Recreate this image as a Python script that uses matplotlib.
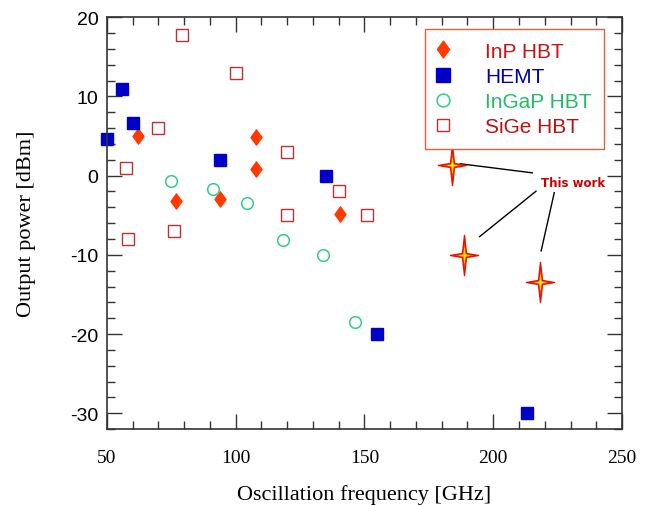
import numpy as np
import matplotlib
matplotlib.use("Agg")
import matplotlib.pyplot as plt
from matplotlib.path import Path
from matplotlib.ticker import MultipleLocator

plt.rcParams["axes.unicode_minus"] = False

# data (GHz, dBm)
inp_freq = [62, 77, 94, 108, 108, 140.5]
inp_pow = [5.0, -3.2, -3.0, 4.9, 0.9, -4.8]

hemt_freq = [50, 56, 60, 94, 135, 155, 213]
hemt_pow = [4.6, 11.0, 6.6, 2.0, 0.0, -20.0, -30.0]

ingap_freq = [75, 91, 104.5, 118.5, 134, 146.5]
ingap_pow = [-0.7, -1.7, -3.4, -8.1, -10.0, -18.5]

sige_freq = [79, 100, 70, 57.5, 120, 120, 76, 58, 140, 151]
sige_pow = [17.8, 13.0, 6.0, 1.0, 3.0, -5.0, -7.0, -8.0, -2.0, -5.0]

work_freq = [184, 188.5, 218]
work_pow = [1.4, -10.0, -13.4]

# custom markers
diamond = Path([(0, 1), (0.72, 0), (0, -1), (-0.72, 0), (0, 1)],
               [Path.MOVETO, Path.LINETO, Path.LINETO, Path.LINETO, Path.CLOSEPOLY])
s = 0.1
star = Path([(0, 1), (s, s), (0.7, 0), (s, -s), (0, -1), (-s, -s), (-0.7, 0), (-s, s), (0, 1)],
            [Path.MOVETO] + [Path.LINETO] * 7 + [Path.CLOSEPOLY])

fig = plt.figure(figsize=(6.52, 5.06), dpi=100)
ax = fig.add_axes([0.164, 0.150, 0.790, 0.814])

ax.plot(inp_freq, inp_pow, ls="none", marker=diamond, ms=11, color="#ff3a00",
        mec="#ff3a00", label="InP HBT", clip_on=False)
ax.plot(hemt_freq, hemt_pow, ls="none", marker="s", ms=8.8, color="#0000c8",
        mec="#0000c8", label="HEMT", clip_on=False)
ax.plot(ingap_freq, ingap_pow, ls="none", marker="o", ms=8.4, mfc="none",
        mec="#33cc88", mew=1.1, label="InGaP HBT", clip_on=False)
ax.plot(sige_freq, sige_pow, ls="none", marker="s", ms=8.4, mfc="none",
        mec="#c03030", mew=1.0, label="SiGe HBT", clip_on=False)

# this work: stars + callout lines
ax.plot(work_freq, work_pow, ls="none", marker=star, ms=29, mfc="#ff4a00",
        mec="#e81000", mew=1.0, zorder=5)
ax.plot(work_freq, work_pow, ls="none", marker=star, ms=11, mfc="#ffff30",
        mec="#ffd000", mew=0.5, zorder=6)

txt_x, txt_y = 231, -0.9
ax.text(txt_x, txt_y, "This work", color="#cc0000", fontsize=8.5, fontweight="bold",
        family="DejaVu Sans", ha="center", va="center")
ax.plot([187.2, 215.2], [1.5, 0.35], color="black", lw=1.0)
ax.plot([194.7, 216.6], [-7.7, -1.97], color="black", lw=1.0)
ax.plot([218.6, 223.7], [-9.5, -2.15], color="black", lw=1.0)

ax.set_xlim(50, 250)
ax.set_ylim(-32, 20)
ax.xaxis.set_major_locator(MultipleLocator(50))
ax.xaxis.set_minor_locator(MultipleLocator(10))
ax.yaxis.set_major_locator(MultipleLocator(10))
ax.yaxis.set_minor_locator(MultipleLocator(2))

ax.tick_params(which="both", direction="in", top=True, right=True, color="#333333")
ax.tick_params(which="major", length=11, width=1.0)
ax.tick_params(which="minor", length=6, width=1.0)
ax.tick_params(axis="x", which="major", pad=14, labelsize=14)
ax.tick_params(axis="y", which="major", pad=6, labelsize=14)
for lab in ax.get_xticklabels():
    lab.set_family("Liberation Serif")
for lab in ax.get_yticklabels():
    lab.set_family("Liberation Sans")
for sp in ax.spines.values():
    sp.set_color("#333333")
    sp.set_linewidth(1.2)

ax.set_xlabel("Oscillation frequency [GHz]", family="Liberation Serif", fontsize=16, labelpad=13)
ax.set_ylabel("Output power [dBm]", family="Liberation Serif", fontsize=16, labelpad=25)

leg = ax.legend(loc="upper right", bbox_to_anchor=(0.965, 0.971), borderaxespad=0,
                fancybox=False, edgecolor="#e06040", framealpha=1,
                prop={"family": "Liberation Sans", "size": 15},
                labelspacing=0.3, handletextpad=1.75, handlelength=0.53,
                borderpad=0.6, markerscale=1.1)
leg.get_frame().set_linewidth(1.0)
for t, c in zip(leg.get_texts(), ["#cc1111", "#0000aa", "#22bb66", "#bb1111"]):
    t.set_color(c)

fig.savefig("out.png", dpi=100)
